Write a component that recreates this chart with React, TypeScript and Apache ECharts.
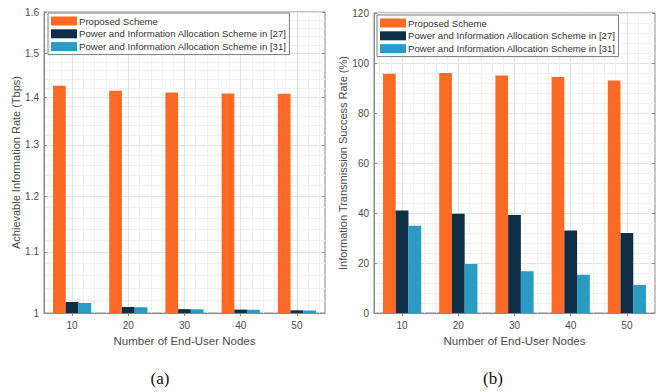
import React, { useEffect, useRef } from 'react';
import * as echarts from 'echarts';

// Number of end-user nodes on the horizontal axis of both panels
const CATEGORIES = ['10', '20', '30', '40', '50'];

const SERIES_NAMES = [
  'Proposed Scheme',
  'Power and Information Allocation Scheme in [27]',
  'Power and Information Allocation Scheme in [31]',
];

// Panel (a): achievable information rate (Tbps), log-scaled axis
const RATE_PROPOSED = [1.426, 1.415, 1.411, 1.409, 1.408];
const RATE_REF27 = [1.0173, 1.0094, 1.006, 1.0053, 1.0042];
const RATE_REF31 = [1.0157, 1.009, 1.0058, 1.0049, 1.0039];
const RATE_TICKS = [1, 1.1, 1.2, 1.3, 1.4, 1.5, 1.6];

// Panel (b): information transmission success rate (%)
const SUCCESS_PROPOSED = [95.7, 96, 95, 94.4, 93];
const SUCCESS_REF27 = [41, 39.7, 39.2, 33, 32];
const SUCCESS_REF31 = [34.9, 19.6, 16.7, 15.3, 11.2];
const SUCCESS_TICKS = [0, 20, 40, 60, 80, 100, 120];

const COLORS = ['#FD6A25', '#0E2E46', '#2A9BC3'];
const AXIS_COLOR = '#8a8a8a';
const LABEL_COLOR = '#4a4a4a';
const MAJOR_GRID = '#e2e2e2';
const MINOR_GRID = '#f1f1f1';
const FONT = '"Liberation Sans", Arial, Helvetica, sans-serif';

const GRIDS = [
  { left: 44, top: 12, width: 281, height: 301 },
  { left: 374, top: 13, width: 281, height: 300 },
];

const log10 = (v: number) => Math.log10(v);

function steps(from: number, to: number, step: number, skipEvery?: number) {
  const out: number[] = [];
  const n = Math.round((to - from) / step);
  for (let i = 0; i <= n; i++) {
    const v = Math.round((from + i * step) * 1000) / 1000;
    if (skipEvery && Math.abs(v / skipEvery - Math.round(v / skipEvery)) < 1e-6) continue;
    out.push(v);
  }
  return out;
}

// x axes for one panel: labelled categories, top box ticks, minor and major vertical grid
function xAxesFor(gridIndex: number) {
  const hidden = {
    axisLine: { show: false },
    axisLabel: { show: false },
  };
  return [
    {
      gridIndex,
      type: 'category',
      data: CATEGORIES,
      position: 'bottom',
      axisLine: { show: true, lineStyle: { color: AXIS_COLOR } },
      axisTick: { show: true, inside: true, alignWithLabel: true, length: 3, lineStyle: { color: AXIS_COLOR } },
      axisLabel: { fontSize: 10, color: LABEL_COLOR, margin: 7, fontFamily: FONT },
      splitLine: { show: false },
      name: 'Number of End-User Nodes',
      nameLocation: 'middle',
      nameGap: 20,
      nameTextStyle: { fontSize: 11.5, color: LABEL_COLOR, fontFamily: FONT, verticalAlign: 'top' },
    },
    {
      gridIndex,
      type: 'category',
      data: CATEGORIES,
      position: 'top',
      axisLine: { show: false },
      axisTick: { show: true, inside: true, alignWithLabel: true, length: 3, lineStyle: { color: AXIS_COLOR } },
      axisLabel: { show: false },
      splitLine: { show: false },
    },
    {
      gridIndex,
      type: 'value',
      min: 5,
      max: 55,
      ...hidden,
      axisTick: { show: false, customValues: steps(6, 54, 2, 10) },
      splitLine: { show: true, lineStyle: { color: MINOR_GRID, width: 1 } },
    },
    {
      gridIndex,
      type: 'value',
      min: 5,
      max: 55,
      ...hidden,
      axisTick: { show: false, customValues: steps(10, 50, 10) },
      splitLine: { show: true, lineStyle: { color: MAJOR_GRID, width: 1 } },
    },
  ];
}

function buildOption() {
  const rateMax = log10(RATE_TICKS[RATE_TICKS.length - 1]);
  const rateTicks = RATE_TICKS.map(log10);
  const rateMinor = steps(1.02, 1.58, 0.02, 0.1).map(log10);

  const yAxis = [
    // panel (a)
    {
      gridIndex: 0,
      type: 'value',
      position: 'left',
      min: 0,
      max: rateMax,
      axisLine: { show: true, lineStyle: { color: AXIS_COLOR } },
      axisTick: { show: true, inside: true, length: 3, customValues: rateTicks, lineStyle: { color: AXIS_COLOR } },
      axisLabel: {
        customValues: rateTicks,
        formatter: (v: number) => String(Math.round(Math.pow(10, v) * 10) / 10),
        fontSize: 10,
        color: LABEL_COLOR,
        margin: 5,
        fontFamily: FONT,
      },
      splitLine: { show: true, lineStyle: { color: MAJOR_GRID, width: 1 } },
      name: 'Achievable Information Rate (Tbps)',
      nameLocation: 'middle',
      nameGap: 22,
      nameTextStyle: { fontSize: 11, color: LABEL_COLOR, fontFamily: FONT },
    },
    {
      gridIndex: 0,
      type: 'value',
      position: 'right',
      min: 0,
      max: rateMax,
      axisLine: { show: false },
      axisTick: { show: true, inside: true, length: 3, customValues: rateTicks, lineStyle: { color: AXIS_COLOR } },
      axisLabel: { show: false },
      splitLine: { show: false },
    },
    {
      gridIndex: 0,
      type: 'value',
      min: 0,
      max: rateMax,
      axisLine: { show: false },
      axisTick: { show: false, customValues: rateMinor },
      axisLabel: { show: false },
      splitLine: { show: true, lineStyle: { color: MINOR_GRID, width: 1 } },
    },
    // panel (b)
    {
      gridIndex: 1,
      type: 'value',
      position: 'left',
      min: 0,
      max: 120,
      interval: 20,
      axisLine: { show: true, lineStyle: { color: AXIS_COLOR } },
      axisTick: { show: true, inside: true, length: 3, customValues: SUCCESS_TICKS, lineStyle: { color: AXIS_COLOR } },
      axisLabel: { customValues: SUCCESS_TICKS, fontSize: 10, color: LABEL_COLOR, margin: 5, fontFamily: FONT },
      splitLine: { show: true, lineStyle: { color: MAJOR_GRID, width: 1 } },
      minorTick: { show: false, splitNumber: 5 },
      minorSplitLine: { show: true, lineStyle: { color: MINOR_GRID, width: 1 } },
      name: 'Information Transmission Success Rate (%)',
      nameLocation: 'middle',
      nameGap: 22,
      nameTextStyle: { fontSize: 11, color: LABEL_COLOR, fontFamily: FONT },
    },
    {
      gridIndex: 1,
      type: 'value',
      position: 'right',
      min: 0,
      max: 120,
      interval: 20,
      axisLine: { show: false },
      axisTick: { show: true, inside: true, length: 3, customValues: SUCCESS_TICKS, lineStyle: { color: AXIS_COLOR } },
      axisLabel: { show: false },
      splitLine: { show: false },
    },
  ];

  const rateData = [RATE_PROPOSED, RATE_REF27, RATE_REF31];
  const successData = [SUCCESS_PROPOSED, SUCCESS_REF27, SUCCESS_REF31];

  const barCommon = {
    type: 'bar',
    barGap: '0%',
    barCategoryGap: '32%',
  };

  const series = [
    ...rateData.map((vals, i) => ({
      ...barCommon,
      name: SERIES_NAMES[i],
      xAxisIndex: 0,
      yAxisIndex: 0,
      itemStyle: { color: COLORS[i] },
      data: vals.map(log10),
    })),
    ...successData.map((vals, i) => ({
      ...barCommon,
      name: SERIES_NAMES[i],
      xAxisIndex: 4,
      yAxisIndex: 3,
      itemStyle: { color: COLORS[i] },
      data: vals,
    })),
  ];

  const legendCommon = {
    orient: 'vertical',
    data: SERIES_NAMES,
    icon: 'rect',
    itemWidth: 26,
    itemHeight: 9,
    itemGap: 2.8,
    padding: [3, 3, 3, 3],
    backgroundColor: '#fff',
    borderColor: '#7a7a7a',
    borderWidth: 1,
    borderRadius: 0,
    selectedMode: false,
    textStyle: { fontSize: 9.6, color: '#333', fontFamily: FONT, padding: [0, 0, 0, -3] },
  };

  return {
    animation: false,
    backgroundColor: '#fff',
    grid: GRIDS.map((g) => ({
      ...g,
      show: true,
      borderColor: AXIS_COLOR,
      borderWidth: 1,
      backgroundColor: '#fff',
      containLabel: false,
    })),
    xAxis: [...xAxesFor(0), ...xAxesFor(1)],
    yAxis,
    legend: [
      { ...legendCommon, left: 48, top: 13 },
      { ...legendCommon, left: 377, top: 15 },
    ],
    series,
    graphic: [
      {
        type: 'text',
        x: 160,
        y: 378,
        style: { text: '(a)', fontSize: 17, fontFamily: '"Liberation Serif", "Times New Roman", serif', fill: '#111', align: 'center', verticalAlign: 'middle' },
      },
      {
        type: 'text',
        x: 493,
        y: 378,
        style: { text: '(b)', fontSize: 17, fontFamily: '"Liberation Serif", "Times New Roman", serif', fill: '#111', align: 'center', verticalAlign: 'middle' },
      },
    ],
  };
}

export default function App() {
  const ref = useRef<HTMLDivElement>(null);
  useEffect(() => {
    if (!ref.current) return;
    const chart = echarts.init(ref.current, null, { renderer: 'svg' });
    chart.setOption(buildOption() as any);
    return () => chart.dispose();
  }, []);
  return (
    <div
      ref={ref}
      style={{ position: 'absolute', left: 0, top: 0, width: 660, height: 392, background: '#fff' }}
    />
  );
}
